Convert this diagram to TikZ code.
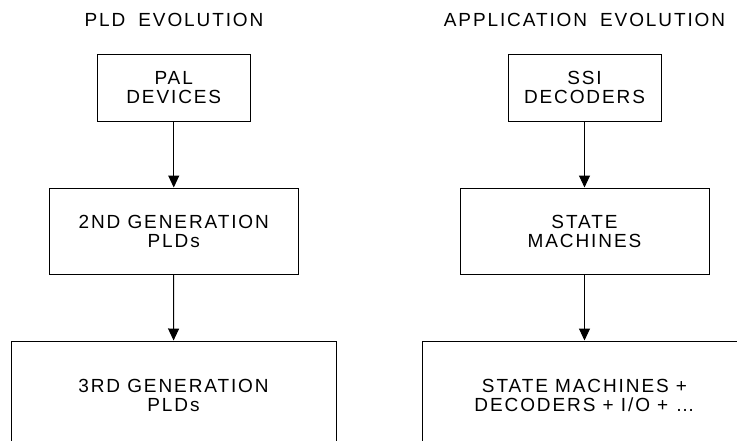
\documentclass[tikz,border=0pt]{standalone}
\usepackage{fontspec}
\setmainfont{Liberation Sans}[LetterSpace=10]
\usetikzlibrary{arrows.meta}
\begin{document}
\begin{tikzpicture}[x=1pt,y=1pt,
  box/.style={draw, line width=1pt, align=center, inner sep=0pt, font=\fontsize{19}{19}\selectfont},
  ttl/.style={inner sep=0pt, font=\fontsize{19}{19}\selectfont},
  conn/.style={line width=1pt, -{Triangle[length=12pt,width=11pt]}}]
\useasboundingbox (0,0) rectangle (737,-440);
\clip (0,0) rectangle (737,-440);
\node[ttl] (t1) at (174,-19.5) {PLD\hspace{13pt}EVOLUTION};
\node[ttl] (t2) at (584.5,-19.5) {APPLICATION\hspace{13pt}EVOLUTION};
\node[box, minimum width=152.5pt, minimum height=67pt] (pal) at (173.75,-87.5) {PAL\\DEVICES};
\node[box, minimum width=248.5pt, minimum height=86.5pt] (gen2) at (173.75,-231.25) {2ND GENERATION\\PLDs};
\node[box, minimum width=325pt, minimum height=108pt] (gen3) at (173.5,-395) {3RD GENERATION\\PLDs};
\node[box, minimum width=153pt, minimum height=67pt] (ssi) at (584.5,-87.5) {SSI\\DECODERS};
\node[box, minimum width=249pt, minimum height=86.5pt] (sm) at (584.5,-231.25) {STATE\\MACHINES};
\node[box, minimum width=325pt, minimum height=108pt] (smd) at (584.5,-395) {STATE MACHINES +\\DECODERS + I/O + \ldots};
\draw[conn] (pal) -- (gen2);
\draw[conn] (gen2) -- (gen3);
\draw[conn] (ssi) -- (sm);
\draw[conn] (sm) -- (smd);
\end{tikzpicture}
\end{document}
